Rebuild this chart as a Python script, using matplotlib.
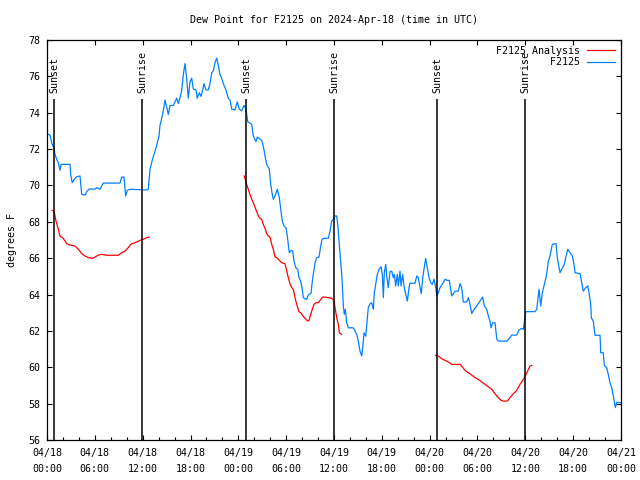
import matplotlib
matplotlib.use("Agg")
import matplotlib.pyplot as plt
import numpy as np

# hours since 2024-04-18 00:00 UTC
obs_hours = [0.16, 0.38, 0.59, 0.72, 0.88, 1.00, 1.22, 1.42, 1.63, 1.76, 2.89, 2.97, 3.17, 3.42,
             3.73, 4.14, 4.26, 4.35, 4.77, 4.98, 5.27, 6.02, 6.23, 6.65, 7.06, 9.16, 9.37, 9.66,
             9.78, 9.87, 10.07, 10.41, 12.51, 12.71, 12.92, 13.21, 13.55, 13.76, 14.05, 14.17,
             14.39, 14.59, 14.80, 15.01, 15.22, 15.43, 15.84, 16.06, 16.27, 16.47, 16.68, 16.90,
             17.10, 17.31, 17.52, 17.72, 17.94, 18.15, 18.35, 18.69, 18.85, 19.10, 19.32, 19.53,
             19.69, 19.95, 20.23, 20.45, 20.66, 20.86, 21.07, 21.29, 21.49, 21.70, 21.91, 22.12,
             22.45, 22.74, 22.96, 23.17, 23.58, 23.87, 24.12, 24.42, 24.71, 24.96, 25.18, 25.38,
             25.68, 25.88, 26.22, 26.38, 26.93, 27.13, 27.35, 27.56, 27.89, 28.06, 28.26, 28.39,
             28.60, 28.89, 29.14, 29.32, 29.52, 29.73, 29.98, 30.14, 30.27, 30.39, 30.61, 30.82,
             30.98, 31.20, 31.45, 31.61, 31.82, 31.99, 32.15, 32.36, 32.58, 32.78, 33.12, 33.28,
             33.40, 33.62, 33.83, 34.12, 34.33, 34.50, 34.75, 35.29, 35.50, 35.71, 35.91, 36.13,
             36.34, 36.47, 36.63, 36.84, 37.00, 37.17, 37.29, 37.42, 37.59, 37.80, 38.42, 38.64,
             38.85, 39.05, 39.26, 39.48, 39.60, 39.77, 39.98, 40.18, 40.30, 40.52, 40.73, 40.93,
             41.06, 41.23, 41.43, 41.65, 41.90, 42.06, 42.19, 42.31, 42.49, 42.61, 42.81, 43.03,
             43.24, 43.44, 43.57, 43.74, 43.94, 44.07, 44.28, 44.41, 44.62, 44.78, 45.00, 45.20,
             45.41, 45.53, 46.16, 46.38, 46.58, 46.79, 46.95, 47.13, 47.29, 47.50, 47.70, 47.92,
             48.13, 48.33, 48.55, 48.76, 48.89, 49.09, 49.30, 49.71, 49.93, 50.21, 50.46, 50.77,
             50.97, 51.18, 51.59, 51.81, 52.02, 52.22, 52.65, 52.85, 53.06, 53.28, 53.48, 53.90,
             54.32, 54.65, 54.86, 55.16, 55.36, 55.57, 55.70, 55.91, 56.20, 56.42, 56.61, 57.67,
             58.08, 58.29, 58.92, 59.21, 59.55, 59.75, 59.92, 60.05, 61.22, 61.43, 61.55, 61.72,
             61.93, 62.13, 62.34, 62.59, 62.76, 62.88, 63.10, 63.38, 63.85, 64.01, 64.35, 64.56,
             64.89, 65.07, 65.32, 65.61, 65.89, 66.11, 66.23, 66.86, 67.07, 67.27, 67.58, 67.83,
             67.99, 68.20, 68.28, 68.53, 68.74, 69.37, 69.46, 69.78, 69.91, 70.21, 70.41, 70.62,
             70.83, 71.04, 71.21, 71.29, 71.47, 72.00]
obs_dewpt = [72.81, 72.77, 72.35, 72.17, 72.08, 71.71, 71.44, 71.25, 70.83, 71.16, 71.16, 70.6,
             70.15, 70.34, 70.48, 70.52, 69.97, 69.51, 69.47, 69.66, 69.8, 69.8, 69.88, 69.79,
             70.13, 70.13, 70.46, 70.46, 69.88, 69.42, 69.73, 69.79, 69.75, 69.8, 70.89, 71.4,
             71.9, 72.2, 72.72, 73.3, 73.7, 74.1, 74.7, 74.3, 73.9, 74.4, 74.4, 74.6, 74.8, 74.5,
             74.8, 75.25, 76.1, 76.7, 75.9, 74.8, 75.7, 75.9, 75.3, 75.25, 74.8, 75.1, 74.9,
             75.25, 75.6, 75.25, 75.25, 75.6, 76.2, 76.3, 76.75, 77.0, 76.6, 76.1, 75.9, 75.6,
             75.25, 74.8, 74.7, 74.2, 74.15, 74.6, 74.2, 74.1, 74.4, 74.2, 73.5, 73.45, 73.36,
             72.72, 72.41, 72.66, 72.48, 72.17, 71.62, 71.16, 70.89, 70.06, 69.51, 69.24, 69.42,
             69.79, 69.33, 68.69, 68.04, 67.77, 67.68, 67.22, 66.76, 66.3, 66.43, 66.39, 65.84,
             65.48, 65.39, 64.93, 64.74, 64.38, 63.83, 63.77, 63.74, 63.97, 64.07, 64.74, 65.11,
             65.75, 66.03, 66.06, 66.67, 67.04, 67.09, 67.09, 67.49, 68.04, 68.14, 68.32, 68.32,
             67.86, 66.94, 65.84, 64.93, 63.37, 62.91, 63.19, 62.45, 62.17, 62.17, 61.99, 61.8,
             61.44, 60.89, 60.62, 61.07, 61.9, 61.71, 62.72, 63.27, 63.49, 63.55, 63.19, 64.1,
             64.56, 65.11, 65.39, 65.53, 65.11, 63.83, 65.2, 65.66, 65.02, 64.38, 65.26, 65.29,
             64.93, 65.11, 64.47, 65.11, 64.47, 65.29, 64.47, 65.11, 64.47, 64.01, 63.64, 64.38,
             64.62, 64.62, 65.02, 64.93, 64.38, 64.05, 64.93, 65.39, 65.99, 65.48, 64.93, 64.66,
             64.56, 64.84, 64.38, 63.92, 64.1, 64.38, 64.66, 64.84, 64.78, 64.78, 63.92, 64.05,
             64.19, 64.19, 64.6, 64.38, 63.59, 63.59, 63.83, 63.46, 62.95, 63.13, 63.37, 63.64,
             63.86, 63.37, 63.19, 62.82, 62.54, 62.17, 62.45, 62.45, 61.54, 61.44, 61.44, 61.63,
             61.77, 61.77, 62.05, 62.14, 62.09, 62.64, 63.06, 63.06, 63.19, 63.64, 64.29, 63.37,
             64.1, 64.47, 64.93, 65.39, 65.84, 66.12, 66.76, 66.8, 66.03, 65.2, 65.39, 65.66,
             66.03, 66.49, 66.3, 66.12, 65.66, 65.2, 65.15, 64.66, 64.19, 64.38, 64.47, 64.1,
             63.46, 62.72, 62.54, 61.76, 61.76, 60.8, 60.8, 60.1, 59.97, 59.6, 59.15, 58.88,
             58.42, 58.0, 57.78, 58.06, 58.06]

# analysis, three separate night-time pieces
ana1_hours = [0.66, 0.88, 1.13, 1.42, 1.63, 2.04, 2.47, 2.89, 3.51, 3.93, 4.35, 4.77, 5.18, 5.73,
              6.02, 6.44, 6.86, 7.49, 8.94, 9.37, 9.78, 10.20, 10.50, 10.83, 11.25, 11.67, 12.08,
              12.51, 12.83]
ana1_dewpt = [68.63, 68.6, 68.04, 67.59, 67.22, 67.09, 66.8, 66.72, 66.67, 66.49, 66.25, 66.12,
              66.03, 65.99, 66.06, 66.17, 66.21, 66.16, 66.16, 66.3, 66.39, 66.58, 66.76, 66.82,
              66.89, 66.98, 67.04, 67.13, 67.16]
ana2_hours = [24.75, 25.05, 25.25, 25.46, 25.68, 25.88, 26.09, 26.31, 26.51, 26.72, 26.93, 27.13,
              27.35, 27.56, 27.76, 27.97, 28.19, 28.39, 28.60, 28.81, 29.01, 29.23, 29.44, 29.86,
              30.07, 30.27, 30.48, 30.70, 30.90, 31.11, 31.32, 31.61, 31.82, 32.03, 32.36, 32.70,
              32.87, 33.08, 33.28, 33.49, 33.74, 34.03, 34.25, 34.58, 34.87, 35.29, 35.71, 36.00,
              36.13, 36.34, 36.54, 36.67, 36.97]
ana2_dewpt = [70.52, 70.06, 69.79, 69.51, 69.24, 69.05, 68.81, 68.56, 68.32, 68.19, 68.14, 67.86,
              67.64, 67.35, 67.22, 67.16, 66.76, 66.49, 66.06, 66.03, 65.94, 65.84, 65.75, 65.7,
              65.29, 64.93, 64.6, 64.38, 64.29, 63.83, 63.46, 63.06, 63.0, 62.87, 62.69, 62.54,
              62.58, 62.91, 63.19, 63.46, 63.55, 63.55, 63.68, 63.86, 63.86, 63.83, 63.79, 63.68,
              63.28, 62.72, 62.36, 61.9, 61.81]
ana3_hours = [48.76, 49.09, 49.51, 49.93, 50.34, 50.77, 51.81, 52.02, 52.43, 52.85, 53.28, 53.69,
              54.10, 54.53, 54.94, 55.36, 55.78, 56.20, 56.61, 56.91, 57.24, 57.74, 58.08, 58.50,
              58.92, 59.33, 59.75, 60.09, 60.38, 60.59, 60.80]
ana3_dewpt = [60.66, 60.62, 60.47, 60.38, 60.29, 60.16, 60.16, 60.07, 59.83, 59.7, 59.57, 59.43,
              59.33, 59.19, 59.06, 58.93, 58.79, 58.54, 58.33, 58.2, 58.14, 58.14, 58.33, 58.54,
              58.73, 59.06, 59.33, 59.61, 59.88, 60.07, 60.1]

sunset_hours = [0.93, 24.95, 48.97]
sunrise_hours = [11.95, 36.0, 59.97]

tick_hours = list(range(0, 73, 6))
tick_labels = ["04/18\n00:00", "04/18\n06:00", "04/18\n12:00", "04/18\n18:00",
               "04/19\n00:00", "04/19\n06:00", "04/19\n12:00", "04/19\n18:00",
               "04/20\n00:00", "04/20\n06:00", "04/20\n12:00", "04/20\n18:00",
               "04/21\n00:00"]

FS = 7.2
plt.rcParams['font.family'] = ['DejaVu Sans Mono']
plt.rcParams['font.size'] = FS

fig = plt.figure(figsize=(6.4, 4.8), dpi=100)
ax = fig.add_axes([47 / 640, 1 - 440 / 480, 574 / 640, 400 / 480])

red = '#ff0000'
blue = '#0080ff'
ax.plot(ana1_hours, ana1_dewpt, color=red, lw=0.9, label='F2125 Analysis')
ax.plot(ana2_hours, ana2_dewpt, color=red, lw=0.9)
ax.plot(ana3_hours, ana3_dewpt, color=red, lw=0.9)
ax.plot(obs_hours, obs_dewpt, color=blue, lw=0.9, label='         F2125')

# sunrise / sunset markers
for h in sunset_hours:
    ax.vlines(h, 56, 74.75, color='black', lw=1.1)
    ax.text(h, 75.1, 'Sunset', rotation=90, ha='center', va='bottom', fontsize=FS)
for h in sunrise_hours:
    ax.vlines(h, 56, 74.75, color='black', lw=1.1)
    ax.text(h, 75.1, 'Sunrise', rotation=90, ha='center', va='bottom', fontsize=FS)

ax.set_xlim(0, 72)
ax.set_ylim(56, 78)
ax.set_xticks(tick_hours)
ax.set_xticklabels(tick_labels, linespacing=1.75)
ax.set_xticks(range(0, 73, 2), minor=True)
ax.set_yticks(range(56, 79, 2))

ax.tick_params(axis='both', which='major', direction='in', length=3.5, width=0.8,
               top=True, right=True, pad=5)
ax.tick_params(axis='x', which='minor', direction='in', length=2, width=0.8,
               top=False, bottom=True)
ax.tick_params(axis='x', which='major', pad=6)
for s in ax.spines.values():
    s.set_linewidth(0.9)

ax.set_ylabel('degrees F', labelpad=8)
ax.set_title('Dew Point for F2125 on 2024-Apr-18 (time in UTC)', pad=12, fontsize=FS)

ax.legend(loc='upper right', frameon=False, markerfirst=False, handlelength=2.8,
          handletextpad=0.7, labelspacing=0.15, borderaxespad=0.5, borderpad=0.1,
          fontsize=FS)

fig.savefig('out.png', dpi=100)
